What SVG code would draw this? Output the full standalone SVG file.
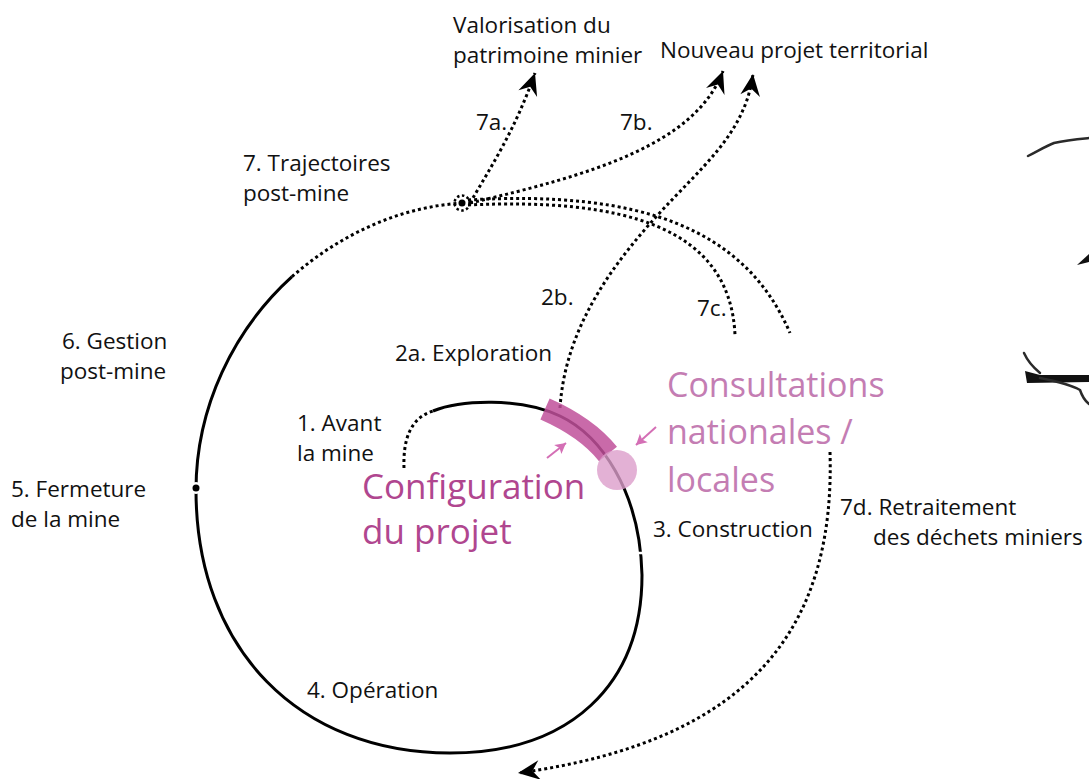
<svg xmlns="http://www.w3.org/2000/svg" width="1089" height="779" viewBox="0 0 1089 779">
<style>
.solid{fill:none;stroke:#000;stroke-width:3}
.dot{fill:none;stroke:#000;stroke-width:3;stroke-dasharray:3 3}
.lbl{font-family:"Open Sans","Noto Sans",sans-serif;font-size:22.5px;fill:#111}
.cfg{font-family:"Open Sans","Noto Sans",sans-serif;font-size:35px;fill:#b0468f}
.cns{font-family:"Open Sans","Noto Sans",sans-serif;font-size:34px;fill:#c47db3}
.pk{fill:none;stroke:#d46fb5;stroke-width:2}
.sk{fill:none;stroke:#2a2a2a;stroke-linecap:round}
</style>
<defs>
<marker id="ah" markerUnits="userSpaceOnUse" markerWidth="26" markerHeight="24" viewBox="-23 -11 25 22" refX="0" refY="0" orient="auto">
<path d="M0,0 L-21,-9.5 L-14,0 L-21,9.5 Z" fill="#000"/>
</marker>
<marker id="pah" markerUnits="userSpaceOnUse" markerWidth="14" markerHeight="14" viewBox="-10 -6 12 12" refX="0" refY="0" orient="auto">
<path d="M0,0 L-9,-5 L-7,0 L-9,5 Z" fill="#d46fb5"/>
</marker>
</defs>

<g id="connectors">
<!-- main spiral, solid part -->
<path id="spiral" class="solid" d="M433,411 C460,400 520,397 560,416 C600,435 640,490 642,575 C642,685 570,753 450,753 C300,753 196,650 196,490 C196,407.5 233.3,329.9 292,276.7"/>
<!-- gap at construction / operation boundary -->
<line x1="634" y1="553" x2="650" y2="553" stroke="#fff" stroke-width="2.5"/>
<!-- tick dot between 5 and 6 -->
<circle cx="196" cy="488" r="6" fill="#fff"/>
<circle cx="196" cy="488" r="3.5" fill="#000"/>
<!-- spiral dotted continuation to junction -->
<path class="dot" d="M292,276.7 C340.3,233.9 402.5,205.6 465,203"/>
<!-- inner dotted start (avant la mine) -->
<path class="dot" d="M404,468 C403,440 410,418 433,411"/>
<!-- 7c and outer continuation -->
<path class="dot" d="M468,205 C620,198 730,225 735,335"/>
<path class="dot" d="M468,200 C640,190 745,228 790,333"/>
<!-- 2b -->
<path class="dot" d="M560,408 C565,330 610,268 655,218 C700,168 745,135 753,74" marker-end="url(#ah)"/>
<!-- 7a -->
<path class="dot" d="M470,203 C492,165 515,130 535,73" marker-end="url(#ah)"/>
<!-- 7b -->
<path class="dot" d="M470,203 C590,175 695,145 723,71" marker-end="url(#ah)"/>
<!-- 7d -->
<path class="dot" d="M830,452 C835,620 760,740 518,773" marker-end="url(#ah)"/>
<!-- junction -->
<circle cx="462" cy="203" r="7.5" fill="none" stroke="#000" stroke-width="2.5" stroke-dasharray="2.5 2.5"/>
<circle cx="462" cy="203" r="3.5" fill="#000"/>
</g>

<g id="configuration">
<path d="M545,409 C570,420 592,434 608,454" fill="none" stroke="#c0509a" stroke-opacity="0.85" stroke-width="23"/>
<path class="pk" d="M547,458 L566,443" marker-end="url(#pah)"/>
<text class="cfg" x="362" y="499">Configuration</text>
<text class="cfg" x="362" y="544">du projet</text>
</g>

<g id="consultations">
<circle cx="617" cy="470" r="20" fill="#dc9ecb" fill-opacity="0.8"/>
<path class="pk" d="M656,427 L636,445" marker-end="url(#pah)"/>
<text class="cns" x="667" y="397">Consultations</text>
<text class="cns" x="667" y="444">nationales /</text>
<text class="cns" x="667" y="492">locales</text>
</g>

<g id="labels">
<text class="lbl" x="453" y="33">Valorisation du</text>
<text class="lbl" x="453" y="63">patrimoine minier</text>
<text class="lbl" x="660" y="58">Nouveau projet territorial</text>
<text class="lbl" x="476" y="130">7a.</text>
<text class="lbl" x="620" y="130">7b.</text>
<text class="lbl" x="243" y="171">7. Trajectoires</text>
<text class="lbl" x="243" y="201">post-mine</text>
<text class="lbl" x="62" y="349">6. Gestion</text>
<text class="lbl" x="60" y="379">post-mine</text>
<text class="lbl" x="541" y="305">2b.</text>
<text class="lbl" x="697" y="316">7c.</text>
<text class="lbl" x="395" y="361">2a. Exploration</text>
<text class="lbl" x="297" y="431">1. Avant</text>
<text class="lbl" x="297" y="461">la mine</text>
<text class="lbl" x="11" y="497">5. Fermeture</text>
<text class="lbl" x="11" y="527">de la mine</text>
<text class="lbl" x="653" y="537">3. Construction</text>
<text class="lbl" x="840" y="515">7d. Retraitement</text>
<text class="lbl" x="873" y="545">des déchets miniers</text>
<text class="lbl" x="307" y="698">4. Opération</text>
</g>

<g id="sketch-edge">
<path class="sk" stroke-width="2.5" d="M1028,156 C1038,151 1046,146 1054,143 C1066,140 1078,139 1089,138"/>
<path d="M1077,265 L1089,254 L1089,262 Z" fill="#111"/>
<path class="sk" stroke-width="2.5" d="M1024,353 C1028,362 1034,368 1040,373"/>
<path d="M1025,371 L1027,383 L1089,382 L1089,375 L1040,375 Z" fill="#111"/>
<path class="sk" stroke-width="2.5" d="M1040,378 C1055,381 1070,384 1080,390 C1082,396 1084,400 1089,404"/>
</g>
</svg>
